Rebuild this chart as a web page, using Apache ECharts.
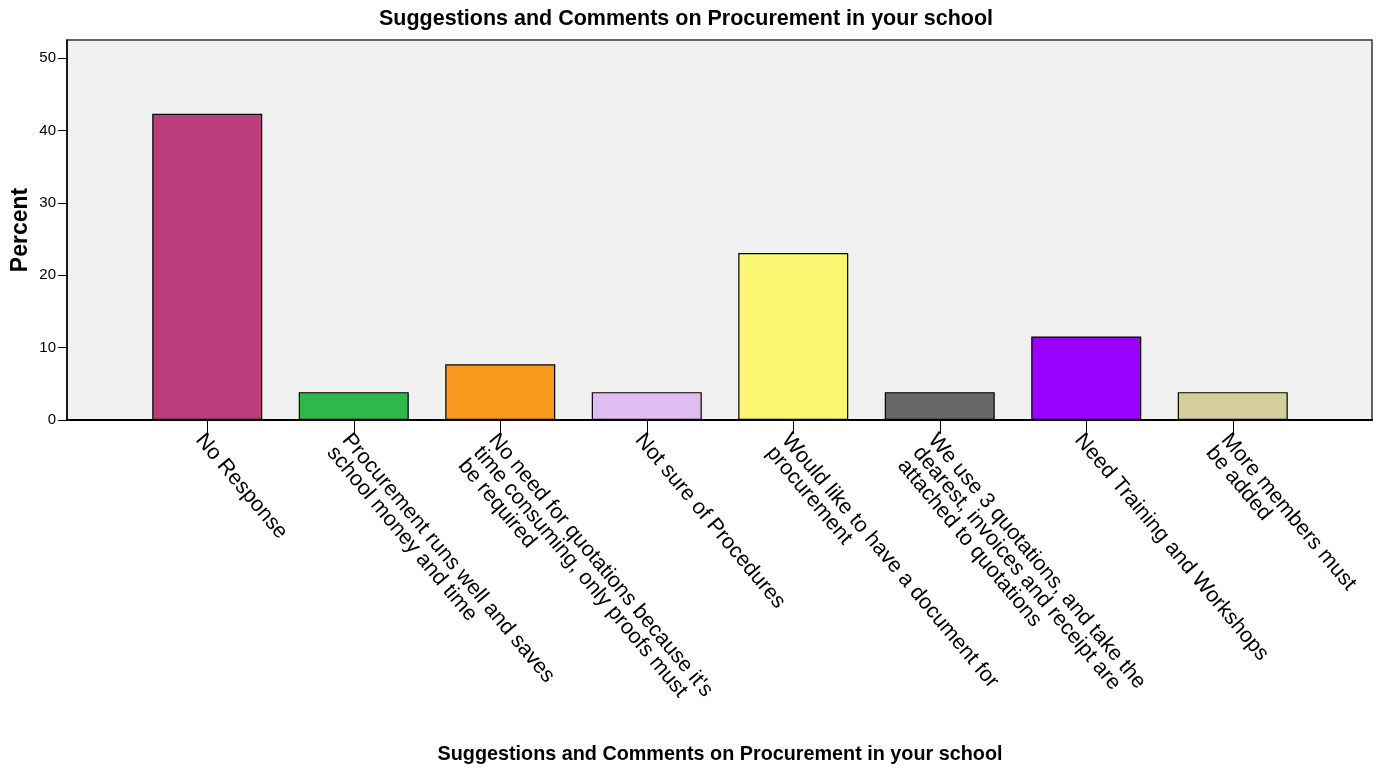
<!DOCTYPE html>
<html>
<head>
<meta charset="utf-8">
<script src="https://cdn.jsdelivr.net/npm/echarts@6/dist/echarts.min.js"></script>
<style>
  html, body { margin: 0; padding: 0; background: #ffffff; }
  #chart { width: 1387px; height: 769px; }
</style>
</head>
<body>
<div id="chart"></div>
<script>
// Response categories (wrapped as printed under the axis)
const categories = [
  'No Response',
  'Procurement runs well and saves\nschool money and time',
  'No need for quotations because it\'s\ntime consuming, only proofs must\nbe required',
  'Not sure of Procedures',
  'Would like to have a document for\nprocurement',
  'We use 3 quotations, and take the\ndearest, invoices and receipt are\nattached to quotations',
  'Need Training and Workshops',
  'More members must\nbe added'
];
// Percent of respondents per category
const percents = [42.31, 3.85, 7.69, 3.85, 23.08, 3.85, 11.54, 3.85];
const barColors = ['#bb3e7c', '#2db84b', '#f8981d', '#dfbdf0', '#fbf773', '#676767', '#9900ff', '#d5d09b'];
const yTicks = [0, 10, 20, 30, 40, 50];

const chartTitle = 'Suggestions and Comments on Procurement in your school';
const sans = '"Liberation Sans", Arial, sans-serif';

const chart = echarts.init(document.getElementById('chart'));
chart.setOption({
  animation: false,
  graphic: [
    { // chart title
      type: 'text', x: 686, y: 19,
      style: {
        text: chartTitle, align: 'center', verticalAlign: 'middle',
        fontFamily: sans, fontWeight: 'bold', fontSize: 21.5, fill: '#000'
      }
    },
    { // category axis title
      type: 'text', x: 720, y: 755,
      style: {
        text: chartTitle, align: 'center', verticalAlign: 'middle',
        fontFamily: sans, fontWeight: 'bold', fontSize: 19.8, fill: '#000'
      }
    }
  ],
  grid: [
    { // framed plotting area
      left: 67, right: 15, top: 40, bottom: 349, outerBoundsMode: 'none',
      show: true, backgroundColor: '#f0f0f0', borderColor: '#333', borderWidth: 1.5
    },
    { // inner band holding the bars
      left: 134, right: 81, top: 40, bottom: 349, outerBoundsMode: 'none'
    }
  ],
  xAxis: [
    {
      gridIndex: 0, type: 'category', data: [''],
      axisLine: { show: true, lineStyle: { color: '#000', width: 2 } },
      axisTick: { show: false }, axisLabel: { show: false }
    },
    {
      gridIndex: 1, type: 'category', data: categories,
      axisLine: { show: false },
      axisTick: { show: true, alignWithLabel: true, interval: 0, length: 14, lineStyle: { color: '#000', width: 1 } },
      axisLabel: {
        interval: 0, rotate: -50, margin: 10,
        align: 'left', verticalAlign: 'top',
        fontFamily: sans, fontSize: 21.5, lineHeight: 20, color: '#000'
      }
    }
  ],
  yAxis: [
    {
      gridIndex: 0, type: 'value', min: 0, max: 52.5,
      name: 'Percent', nameLocation: 'middle', nameGap: 35, nameMoveOverlap: false,
      nameTextStyle: { fontFamily: sans, fontWeight: 'bold', fontSize: 23, color: '#000' },
      splitLine: { show: false },
      axisLine: { show: true, lineStyle: { color: '#000', width: 1.5 } },
      axisTick: { show: true, length: 9, customValues: yTicks, lineStyle: { color: '#000' } },
      axisLabel: { customValues: yTicks, margin: 11, fontFamily: sans, fontSize: 15, color: '#000' }
    },
    {
      gridIndex: 1, type: 'value', min: 0, max: 52.5, show: false
    }
  ],
  series: [{
    type: 'bar',
    xAxisIndex: 1, yAxisIndex: 1,
    data: percents.map((v, i) => ({ value: v, itemStyle: { color: barColors[i] } })),
    barWidth: 110,
    itemStyle: { borderColor: '#000', borderWidth: 1.2 }
  }]
});
</script>
</body>
</html>
